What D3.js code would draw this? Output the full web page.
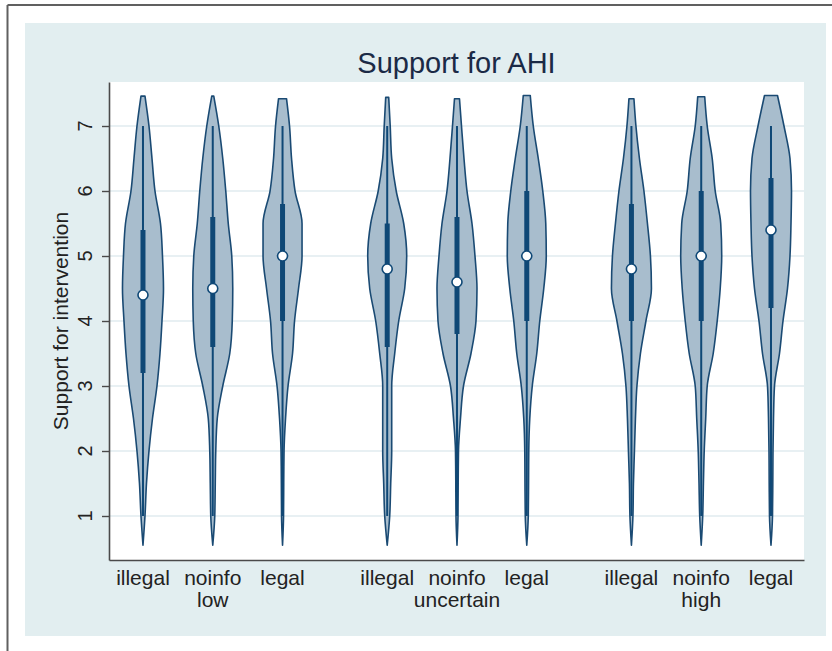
<!DOCTYPE html>
<html>
<head>
<meta charset="utf-8">
<script src="https://cdn.jsdelivr.net/npm/d3@7"></script>
<style>
  html, body { margin: 0; padding: 0; background: #ffffff; }
  svg { display: block; }
  text { font-family: "Liberation Sans", Arial, Helvetica, sans-serif; }
</style>
</head>
<body>
<svg id="chart" width="832" height="651"></svg>
<script>
// ---------------- data ----------------
const groups = ["low", "uncertain", "high"];
const conditions = ["illegal", "noinfo", "legal"];
const positions = [1, 2, 3, 4.5, 5.5, 6.5, 8, 9, 10];
const yTicks = [1, 2, 3, 4, 5, 6, 7];
// evaluation grid for the kernel densities
const yGrid = [0.55, 1, 1.5, 2, 2.5, 3, 3.5, 4, 4.5, 5, 5.5, 6, 6.5, 7];
// density estimates along yGrid, one array per violin
const dens1 = [0, .04, .07, .12, .19, .28, .34, .38, .41, .39, .35, .24, .18, .12];
const dens2 = [0, .04, .05, .06, .09, .20, .34, .39, .40, .38, .31, .26, .20, .12];
const dens3 = [0, .02, .024, .03, .06, .11, .20, .24, .32, .39, .39, .25, .18, .14];
const dens4 = [0, .05, .07, .09, .09, .09, .15, .23, .35, .39, .33, .18, .09, .06];
const dens5 = [0, .02, .024, .03, .07, .13, .28, .38, .40, .36, .30, .20, .14, .09];
const dens6 = [0, .03, .036, .04, .06, .11, .20, .26, .34, .39, .38, .32, .23, .13];
const dens7 = [0, .03, .04, .06, .08, .11, .18, .29, .40, .38, .32, .25, .16, .09];
const dens8 = [0, .03, .044, .06, .09, .12, .24, .32, .38, .41, .39, .28, .22, .12];
const dens9 = [0, .03, .036, .04, .05, .07, .17, .24, .33, .38, .40, .41, .38, .26];
// upper end of each density estimate and density there
const tops = [7.46, 7.46, 7.42, 7.44, 7.42, 7.47, 7.42, 7.45, 7.47];
const topDens = [.04, .02, .08, .03, .05, .07, .05, .07, .13];
// box statistics
const medians = [4.4, 4.5, 5.0, 4.8, 4.6, 5.0, 4.8, 5.0, 5.4];
const q1 = [3.2, 3.6, 4.0, 3.6, 3.8, 4.0, 4.0, 4.0, 4.2];
const q3 = [5.4, 5.6, 5.8, 5.5, 5.6, 6.0, 5.8, 6.0, 6.2];
const whiskLo = [1, 1, 1, 1, 1, 1, 1, 1, 1];
const whiskHi = [7, 7, 7, 7, 7, 7, 7, 7, 7];

const densities = [dens1, dens2, dens3, dens4, dens5, dens6, dens7, dens8, dens9];

// ---------------- layout ----------------
const svg = d3.select("#chart");
const W = 832, H = 651;
const plot = { left: 109, right: 804, top: 82, bottom: 560 };

const navy = "#1a4a73";
const barCol = "#0f4876";
const fillCol = "#a8bdcd";
const bgCol = "#e2eef0";
const gridCol = "#e0ebef";

// outer frame lines (top and left)
svg.append("line").attr("x1", 7.5).attr("x2", W).attr("y1", 5).attr("y2", 5)
  .attr("stroke", "#606060").attr("stroke-width", 2);
svg.append("line").attr("x1", 7.5).attr("x2", 7.5).attr("y1", 5).attr("y2", H)
  .attr("stroke", "#606060").attr("stroke-width", 2);

// graph region
svg.append("rect").attr("x", 25).attr("y", 23).attr("width", 826 - 25).attr("height", 636 - 23)
  .attr("fill", bgCol);
// plot region
svg.append("rect").attr("x", plot.left).attr("y", plot.top)
  .attr("width", plot.right - plot.left).attr("height", plot.bottom - plot.top)
  .attr("fill", "#ffffff");

// scales
const y = d3.scaleLinear().domain([0.323, 7.677]).range([plot.bottom, plot.top]);
const x = d3.scaleLinear().domain([0.513, 10.473]).range([plot.left, plot.right]);
const allD = densities.flat().concat(topDens);
const w = d3.scaleLinear().domain([0, d3.max(allD)]).range([0, 20.5]);

// grid lines
svg.append("g").selectAll("line").data(yTicks).join("line")
  .attr("x1", plot.left).attr("x2", plot.right)
  .attr("y1", d => y(d)).attr("y2", d => y(d))
  .attr("stroke", gridCol).attr("stroke-width", 1.6);

// violins
const area = d3.area()
  .y(d => y(d.v))
  .x0(d => d.cx - w(d.d))
  .x1(d => d.cx + w(d.d))
  .curve(d3.curveMonotoneY);

const vg = svg.append("g");
positions.forEach((p, i) => {
  const cx = x(p);
  const pts = yGrid.map((v, k) => ({ v, d: densities[i][k], cx }));
  pts.push({ v: tops[i], d: topDens[i], cx });
  vg.append("path").datum(pts)
    .attr("d", area)
    .attr("fill", fillCol)
    .attr("stroke", navy).attr("stroke-width", 1.6).attr("stroke-linejoin", "round");
  // whisker
  vg.append("line").attr("x1", cx).attr("x2", cx)
    .attr("y1", y(whiskLo[i])).attr("y2", y(whiskHi[i]))
    .attr("stroke", barCol).attr("stroke-width", 2);
  // IQR bar
  vg.append("line").attr("x1", cx).attr("x2", cx)
    .attr("y1", y(q1[i])).attr("y2", y(q3[i]))
    .attr("stroke", barCol).attr("stroke-width", 5);
  // median
  vg.append("circle").attr("cx", cx).attr("cy", y(medians[i])).attr("r", 5)
    .attr("fill", "#ffffff").attr("stroke", barCol).attr("stroke-width", 1.6);
});

// y axis
const yAxis = d3.axisLeft(y).tickValues(yTicks).tickSize(7).tickSizeOuter(0).tickFormat(d3.format("d"));
const ya = svg.append("g").attr("transform", `translate(${plot.left},0)`).call(yAxis);
ya.select(".domain").attr("stroke", "#4a4a4a").attr("stroke-width", 1.6);
ya.selectAll(".tick line").attr("stroke", "#4a4a4a").attr("stroke-width", 1.4);
ya.selectAll(".tick text").remove();
svg.append("g").selectAll("text").data(yTicks).join("text")
  .attr("transform", d => `translate(92,${y(d)}) rotate(-90)`)
  .attr("text-anchor", "middle")
  .attr("font-size", 20).attr("fill", "#222")
  .text(d => d);

// x axis
const xa = svg.append("g").attr("transform", `translate(0,${plot.bottom})`)
  .call(d3.axisBottom(x).tickValues([]).tickSize(0).tickSizeOuter(0));
xa.select(".domain").attr("stroke", "#4a4a4a").attr("stroke-width", 1.6);

// x labels: condition
svg.append("g").selectAll("text").data(positions).join("text")
  .attr("x", d => x(d)).attr("y", 585)
  .attr("text-anchor", "middle").attr("font-size", 21).attr("fill", "#222")
  .text((d, i) => conditions[i % 3]);
// x labels: group
svg.append("g").selectAll("text").data(groups).join("text")
  .attr("x", (d, i) => x(positions[i * 3 + 1])).attr("y", 607)
  .attr("text-anchor", "middle").attr("font-size", 21).attr("fill", "#222")
  .text(d => d);

// y axis title
svg.append("text")
  .attr("transform", `translate(68,${(plot.top + plot.bottom) / 2}) rotate(-90)`)
  .attr("text-anchor", "middle").attr("font-size", 21).attr("fill", "#222")
  .text("Support for intervention");

// title
svg.append("text")
  .attr("x", (plot.left + plot.right) / 2).attr("y", 73)
  .attr("text-anchor", "middle").attr("font-size", 29).attr("fill", "#1b2a46")
  .text("Support for AHI");
</script>
</body>
</html>
